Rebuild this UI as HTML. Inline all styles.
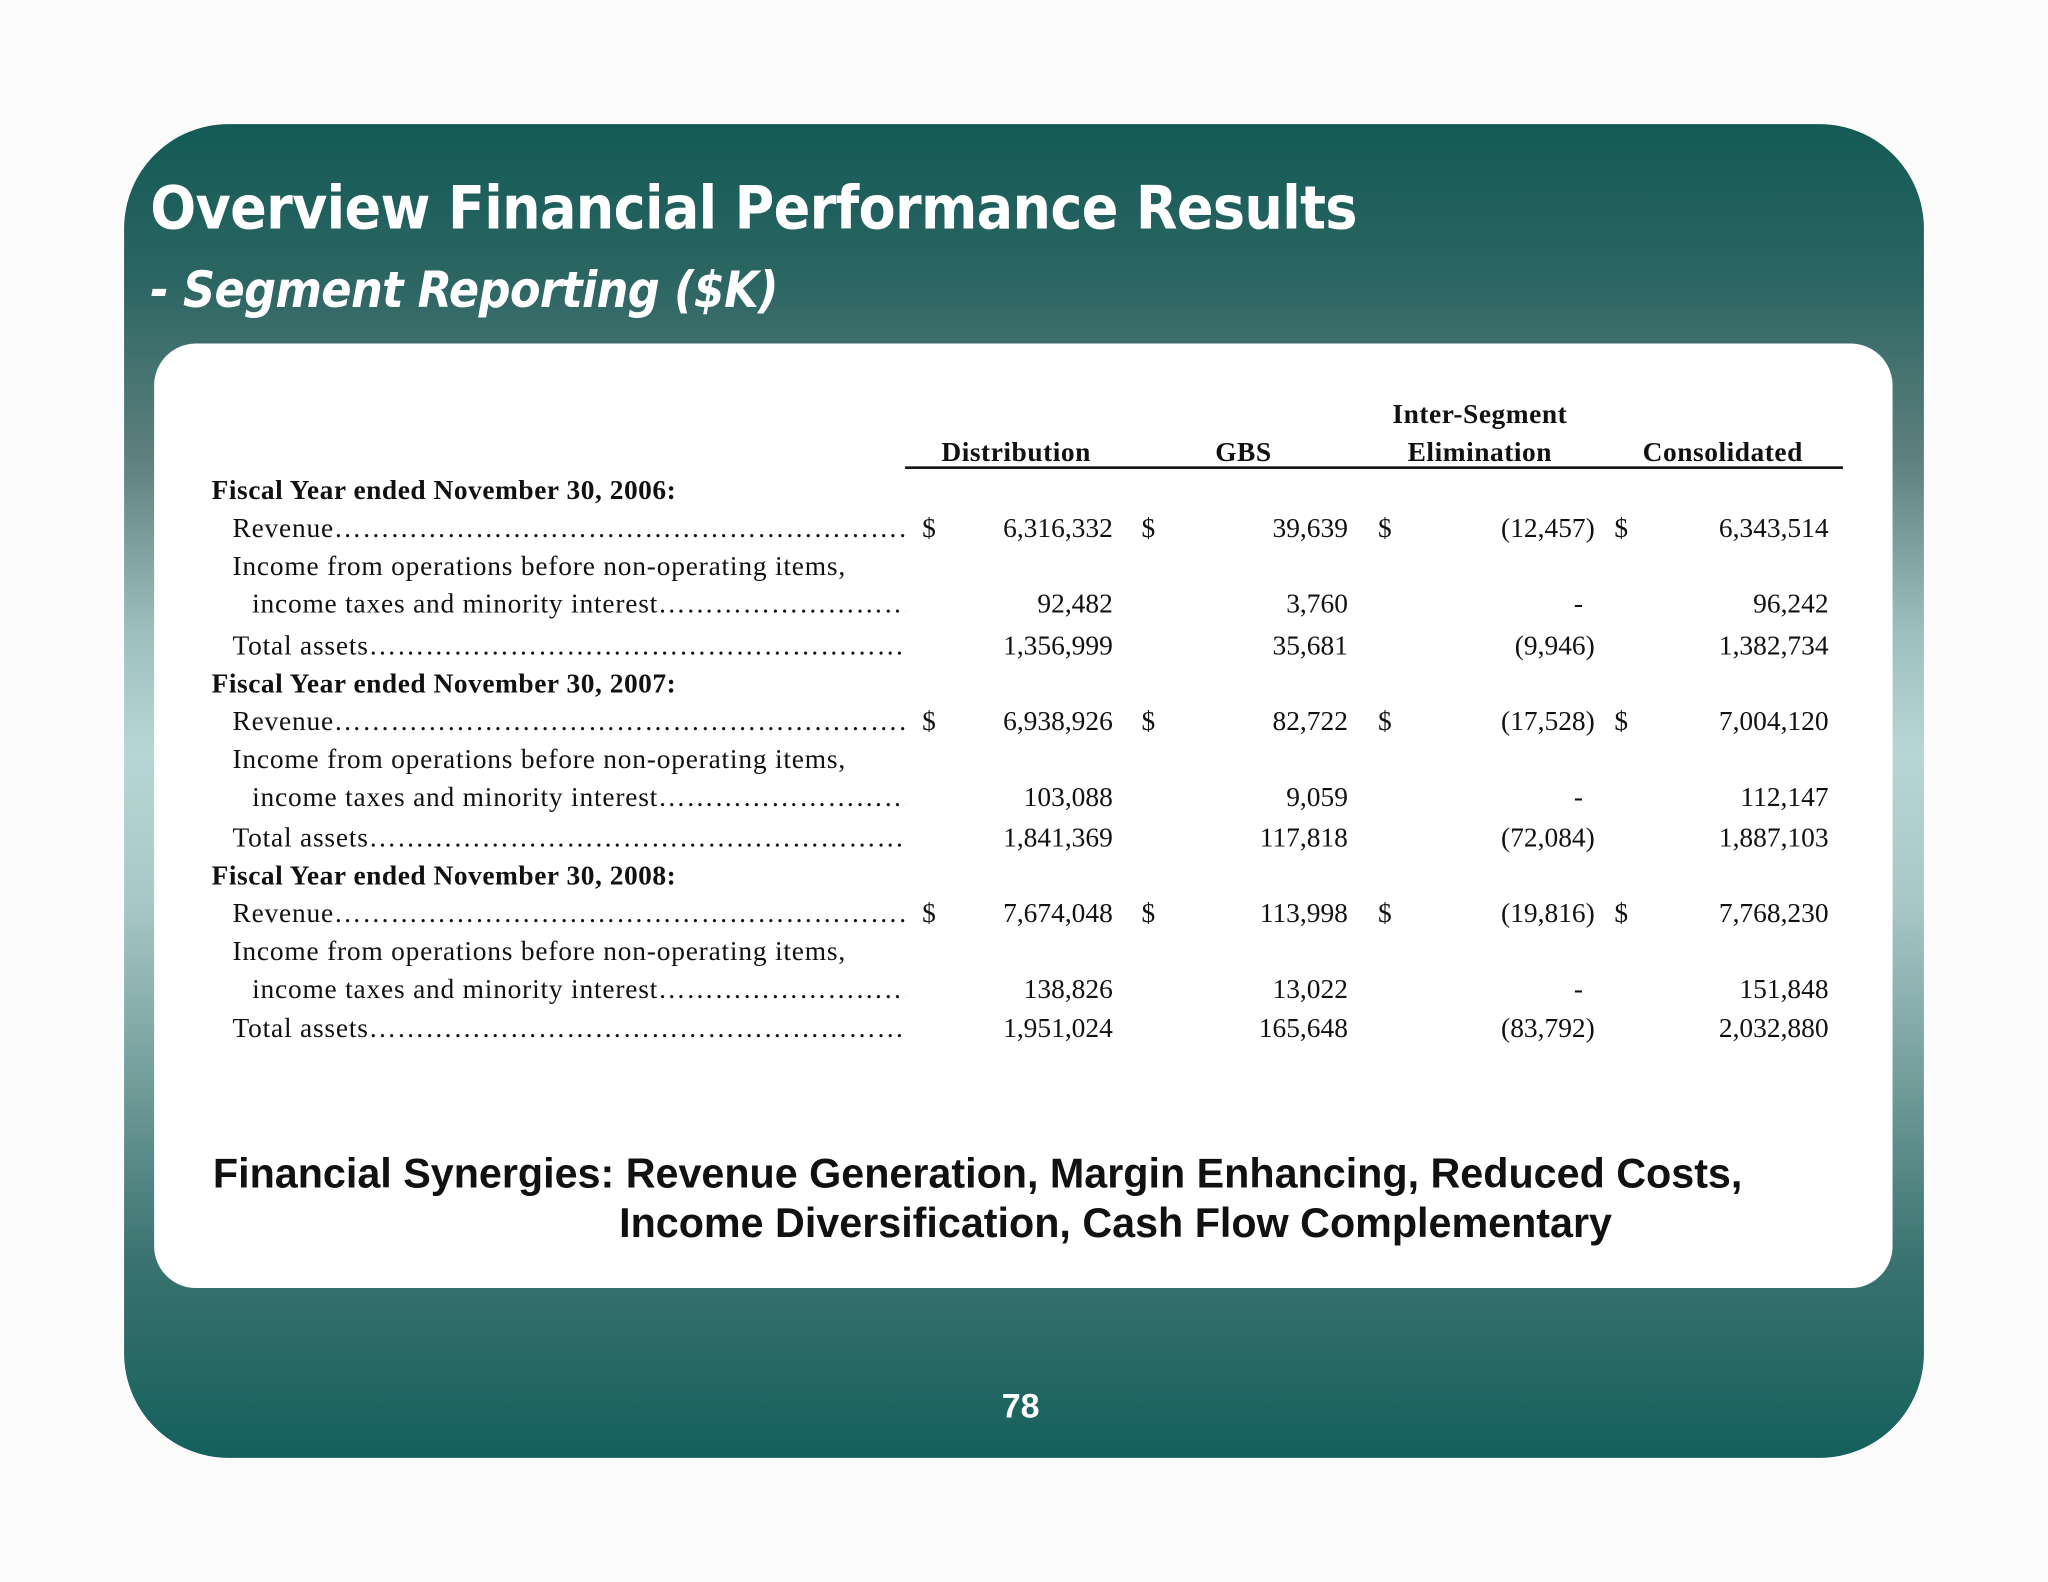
<!DOCTYPE html>
<html><head><meta charset="utf-8"><style>
html,body{margin:0;padding:0;background:#fff;}
#s{position:absolute;left:0;top:0;width:1568px;height:1211px;transform:scale(1.30612,1.3063);transform-origin:0 0;overflow:hidden;background:#fbfbfc;}
#panel{position:absolute;left:95px;top:95px;width:1378px;height:1021px;border-radius:80px;
background:linear-gradient(to bottom,#135a55 0%,#2c6663 12%,#5e807d 25%,#9cbfbc 38%,#b7d6d3 47%,#a9c9c6 58%,#7aa3a0 70%,#3a7370 85%,#15605b 100%);}
#white{position:absolute;left:118px;top:263px;width:1331px;height:723px;border-radius:32px;background:#fff;}
.t1{position:absolute;left:115px;top:132px;font:bold 46px "DejaVu Sans Condensed","Liberation Sans",sans-serif;color:#fff;letter-spacing:-0.5px;white-space:nowrap;}
.t2{position:absolute;left:115px;top:200px;font:italic bold 38px "DejaVu Sans Condensed","Liberation Sans",sans-serif;color:#fff;white-space:nowrap;letter-spacing:-0.5px;}
.r{position:absolute;left:0;width:1568px;height:24px;font:21px/24px "Liberation Serif",serif;color:#111;white-space:nowrap;}
.r span{position:absolute;top:0;}
.r span.lab,.r span.lab2,.r span.txt{letter-spacing:0.6px;}
.b{font-weight:bold;}
.b span{letter-spacing:0.4px;}
.lab{left:178px;width:515px;overflow:hidden;}
.lab2{left:193px;width:500px;overflow:hidden;}
.d1{left:706px}.d2{left:874px}.d3{left:1055px}.d4{left:1236px}
.n1{right:716px}.n2{right:536px}.n3{right:347px}.n4{right:168px}.dash{right:356px}
.h{position:absolute;font:bold 21px/24px "Liberation Serif",serif;color:#111;white-space:nowrap;transform:translateX(-50%);letter-spacing:0.4px;}
#line{position:absolute;left:693px;top:357px;width:718px;height:2px;background:#111;}
.bt{position:absolute;font:bold 31.6px "Liberation Sans",sans-serif;color:#111;white-space:nowrap;}
</style></head><body><div id="s">
<div id="panel"></div>
<div id="white"></div>
<div class="t1">Overview Financial Performance Results</div>
<div class="t2">- Segment Reporting ($K)</div>

<div class="h" style="left:1133px;top:305px">Inter-Segment</div>
<div class="h" style="left:778px;top:334px">Distribution</div>
<div class="h" style="left:952px;top:334px">GBS</div>
<div class="h" style="left:1133px;top:334px">Elimination</div>
<div class="h" style="left:1319px;top:334px">Consolidated</div>
<div id="line"></div>

<div class="r b" style="top:363px"><span style="left:162px">Fiscal Year ended November 30, 2006:</span></div>
<div class="r" style="top:392px"><span class="lab">Revenue……………………………………………………………………………</span><span class="d1">$</span><span class="n1">6,316,332</span><span class="d2">$</span><span class="n2">39,639</span><span class="d3">$</span><span class="n3">(12,457)</span><span class="d4">$</span><span class="n4">6,343,514</span></div>
<div class="r" style="top:421px"><span class="txt" style="left:178px">Income from operations before non-operating items,</span></div>
<div class="r" style="top:450px"><span class="lab2">income taxes and minority interest……………………………………</span><span class="n1">92,482</span><span class="n2">3,760</span><span class="dash">-</span><span class="n4">96,242</span></div>
<div class="r" style="top:482px"><span class="lab">Total assets……………………………………………………………………………</span><span class="n1">1,356,999</span><span class="n2">35,681</span><span class="n3">(9,946)</span><span class="n4">1,382,734</span></div>

<div class="r b" style="top:511px"><span style="left:162px">Fiscal Year ended November 30, 2007:</span></div>
<div class="r" style="top:540px"><span class="lab">Revenue……………………………………………………………………………</span><span class="d1">$</span><span class="n1">6,938,926</span><span class="d2">$</span><span class="n2">82,722</span><span class="d3">$</span><span class="n3">(17,528)</span><span class="d4">$</span><span class="n4">7,004,120</span></div>
<div class="r" style="top:569px"><span class="txt" style="left:178px">Income from operations before non-operating items,</span></div>
<div class="r" style="top:598px"><span class="lab2">income taxes and minority interest……………………………………</span><span class="n1">103,088</span><span class="n2">9,059</span><span class="dash">-</span><span class="n4">112,147</span></div>
<div class="r" style="top:629px"><span class="lab">Total assets……………………………………………………………………………</span><span class="n1">1,841,369</span><span class="n2">117,818</span><span class="n3">(72,084)</span><span class="n4">1,887,103</span></div>

<div class="r b" style="top:658px"><span style="left:162px">Fiscal Year ended November 30, 2008:</span></div>
<div class="r" style="top:687px"><span class="lab">Revenue……………………………………………………………………………</span><span class="d1">$</span><span class="n1">7,674,048</span><span class="d2">$</span><span class="n2">113,998</span><span class="d3">$</span><span class="n3">(19,816)</span><span class="d4">$</span><span class="n4">7,768,230</span></div>
<div class="r" style="top:716px"><span class="txt" style="left:178px">Income from operations before non-operating items,</span></div>
<div class="r" style="top:745px"><span class="lab2">income taxes and minority interest……………………………………</span><span class="n1">138,826</span><span class="n2">13,022</span><span class="dash">-</span><span class="n4">151,848</span></div>
<div class="r" style="top:775px"><span class="lab">Total assets……………………………………………………………………………</span><span class="n1">1,951,024</span><span class="n2">165,648</span><span class="n3">(83,792)</span><span class="n4">2,032,880</span></div>

<div class="bt" style="left:163px;top:880px">Financial Synergies: Revenue Generation, Margin Enhancing, Reduced Costs,</div>
<div class="bt" style="left:474px;top:918px">Income Diversification, Cash Flow Complementary</div>
<div class="bt" style="left:767px;top:1061px;color:#fff;font-size:26px">78</div>
</div></body></html>
